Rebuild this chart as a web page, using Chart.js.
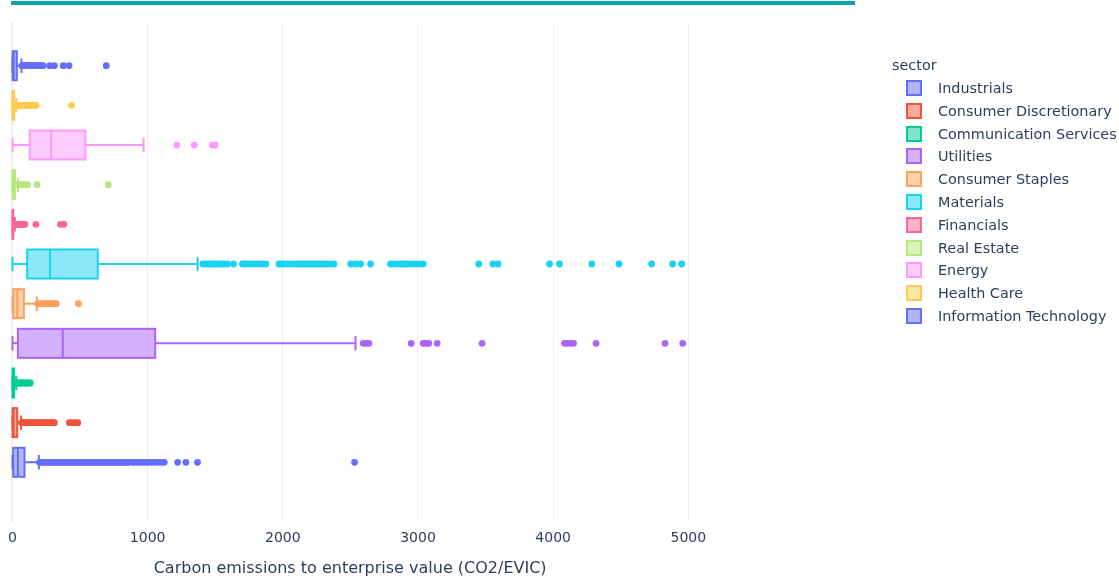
<!DOCTYPE html>
<html>
<head>
<meta charset="utf-8">
<script src="https://cdn.jsdelivr.net/npm/chart.js@4.4.1/dist/chart.umd.min.js"></script>
<style>
  html, body { margin: 0; padding: 0; background: #fff; }
  #wrap { position: relative; width: 1119px; height: 581px; overflow: hidden;
          font-family: "DejaVu Sans", Verdana, sans-serif; color: #2a3f5f; }
  #topline { position: absolute; left: 11px; top: 1px; width: 844px; height: 4px; background: #0aa1b6; }
  canvas { position: absolute; left: 0; top: 0; }
  #legend { position: absolute; left: 0; top: 0; width: 1119px; height: 581px; pointer-events: none; }
  .lg-title { position: absolute; left: 892px; font-size: 14.4px; line-height: 18px; }
  .lg-item { position: absolute; left: 906px; height: 18px; line-height: 18px; font-size: 14.4px; white-space: nowrap; }
  .lg-swatch { position: absolute; left: 0; top: 1px; width: 12px; height: 12px; border: 2px solid; }
  .lg-text { position: absolute; left: 32px; top: 0; }
</style>
</head>
<body>
<div id="wrap">
  <div id="topline"></div>
  <canvas id="chart" width="1119" height="581"></canvas>
  <div id="legend"></div>
</div>
<script>
// Sectors in legend order; the first one sits at the bottom of the plot.
const sectors = [
  'Industrials', 'Consumer Discretionary', 'Communication Services', 'Utilities',
  'Consumer Staples', 'Materials', 'Financials', 'Real Estate', 'Energy',
  'Health Care', 'Information Technology'
];
const sectorColors = [
  '#636efa', '#EF553B', '#00cc96', '#ab63fa', '#FFA15A', '#19d3f3',
  '#FF6692', '#B6E880', '#FF97FF', '#FECB52', '#636efa'
];

// Box statistics (CO2/EVIC), one entry per sector.
const lowerFence = [0, 0, 0, 0, 0, 0, 0, 0, 0, 0, 0];
const q1Values = [5, 1, 0.5, 40, 5, 109, 0.5, 1, 128, 0.5, 1];
const medianValues = [40, 8, 3, 372, 35, 278, 2, 5, 286, 3, 8];
const q3Values = [89, 35, 12, 1056, 84, 631, 6, 18, 539, 12, 32];
const upperFence = [195, 64, 28, 2538, 180, 1369, 18, 40, 970, 28, 66];

// Outlying points per sector.
const industrialsOutliers = [200, 215, 228, 243, 257, 270, 286, 300, 315, 330, 344, 358, 373, 388, 402,
  418, 432, 447, 462, 476, 490, 505, 520, 535, 550, 566, 580, 595, 610, 625, 640, 655, 670, 686, 700,
  716, 730, 745, 760, 776, 790, 806, 820, 836, 850, 864, 889, 905, 925, 945, 965, 985, 1005, 1030,
  1050, 1075, 1100, 1123, 1222, 1283, 1369, 2531];
const consumerDiscretionaryOutliers = [68, 76, 85, 94, 103, 112, 122, 132, 142, 152, 163, 174, 185, 196,
  207, 218, 230, 242, 255, 268, 282, 296, 310, 421, 440, 463, 483];
const communicationOutliers = [30, 40, 50, 60, 70, 80, 90, 100, 110, 120, 131];
const utilitiesOutliers = [2595, 2615, 2637, 2950, 3038, 3060, 3080, 3142, 3474, 4084, 4105, 4130,
  4151, 4318, 4828, 4959];
const consumerStaplesOutliers = [187, 200, 212, 225, 238, 250, 262, 275, 288, 300, 312, 323, 488];
const materialsOutliers = [1408, 1425, 1442, 1460, 1480, 1504, 1522, 1540, 1560, 1591, 1635, 1701,
  1718, 1738, 1760, 1782, 1805, 1830, 1850, 1874, 1972, 1990, 2010, 2035, 2060, 2085, 2110, 2130,
  2150, 2175, 2195, 2215, 2238, 2260, 2280, 2300, 2325, 2350, 2378, 2502, 2540, 2575, 2649, 2797,
  2825, 2850, 2875, 2895, 2915, 2940, 2965, 2985, 3010, 3038, 3449, 3555, 3592, 3973, 4047, 4286,
  4488, 4729, 4884, 4951];
const financialsOutliers = [20, 27, 35, 42, 50, 58, 66, 74, 83, 92, 173, 355, 380];
const realEstateOutliers = [42, 50, 58, 66, 75, 84, 93, 102, 112, 182, 709];
const energyOutliers = [1216, 1345, 1480, 1500];
const healthCareOutliers = [30, 38, 46, 55, 63, 72, 82, 90, 100, 110, 118, 128, 137, 147, 156, 166,
  175, 436];
const techOutliers = [70, 78, 85, 92, 100, 108, 115, 124, 132, 140, 150, 158, 167, 176, 185, 196, 207,
  218, 226, 275, 310, 375, 418, 694];

const outlierLists = [industrialsOutliers, consumerDiscretionaryOutliers, communicationOutliers,
  utilitiesOutliers, consumerStaplesOutliers, materialsOutliers, financialsOutliers,
  realEstateOutliers, energyOutliers, healthCareOutliers, techOutliers];

const xTicks = [0, 1000, 2000, 3000, 4000, 5000];
const axisTitle = 'Carbon emissions to enterprise value (CO2/EVIC)';
const legendTitle = 'sector';

const FONT = '"DejaVu Sans", Verdana, sans-serif';
const INK = '#2a3f5f';
const GRID = '#EBF0F8';
const BOX_PX = 29;

function withAlpha(hex, a) {
  const n = parseInt(hex.slice(1), 16);
  return `rgba(${(n >> 16) & 255}, ${(n >> 8) & 255}, ${n & 255}, ${a})`;
}

const boxDatasets = sectors.map((name, i) => ({
  type: 'bar',
  label: name,
  indexAxis: 'y',
  data: [{ x: [q1Values[i], q3Values[i]], y: i }],
  backgroundColor: withAlpha(sectorColors[i], 0.5),
  borderWidth: 0,
  barThickness: BOX_PX,
  grouped: false,
  order: 1,
  boxIndex: i
}));

const pointDatasets = sectors.map((name, i) => ({
  type: 'scatter',
  label: name + ' points',
  indexAxis: 'x',
  data: outlierLists[i].map(v => ({ x: v, y: i })),
  backgroundColor: sectorColors[i],
  borderWidth: 0,
  pointRadius: 3.4,
  pointHoverRadius: 3.4,
  order: 0
}));

// Outline, whiskers and median of each box, placed with the chart scales.
const boxWhiskers = {
  id: 'boxWhiskers',
  afterDatasetDraw(chart, args) {
    const ds = chart.data.datasets[args.index];
    if (ds.type !== 'bar') return;
    const i = ds.boxIndex;
    const xs = chart.scales.x, ys = chart.scales.y;
    const ctx = chart.ctx;
    const cy = ys.getPixelForValue(i);
    const half = BOX_PX / 2;
    const px = v => xs.getPixelForValue(v);
    const c = sectorColors[i];
    ctx.save();
    ctx.strokeStyle = c;
    ctx.lineWidth = 2;
    ctx.lineJoin = 'miter';
    // box outline
    ctx.strokeRect(px(q1Values[i]), cy - half, px(q3Values[i]) - px(q1Values[i]), BOX_PX);
    ctx.beginPath();
    // median
    ctx.moveTo(px(medianValues[i]), cy - half);
    ctx.lineTo(px(medianValues[i]), cy + half);
    // whiskers
    ctx.moveTo(px(lowerFence[i]), cy);
    ctx.lineTo(px(q1Values[i]), cy);
    ctx.moveTo(px(q3Values[i]), cy);
    ctx.lineTo(px(upperFence[i]), cy);
    // caps
    const cap = BOX_PX / 4;
    ctx.moveTo(px(lowerFence[i]), cy - cap);
    ctx.lineTo(px(lowerFence[i]), cy + cap);
    ctx.moveTo(px(upperFence[i]), cy - cap);
    ctx.lineTo(px(upperFence[i]), cy + cap);
    ctx.stroke();
    ctx.restore();
  }
};

Chart.defaults.font.family = FONT;
Chart.defaults.color = INK;

const chart = new Chart(document.getElementById('chart'), {
  type: 'bar',
  data: { datasets: [...boxDatasets, ...pointDatasets] },
  options: {
    responsive: false,
    animation: false,
    indexAxis: 'y',
    events: [],
    layout: { padding: { left: 8, right: 428, top: 22, bottom: 0 } },
    plugins: { legend: { display: false }, tooltip: { enabled: false } },
    scales: {
      x: {
        type: 'linear',
        position: 'bottom',
        min: -24,
        max: 5020,
        afterBuildTicks(scale) { scale.ticks = xTicks.map(v => ({ value: v })); },
        afterFit(scale) { scale.height = 59; },
        border: { display: false },
        grid: {
          drawTicks: false,
          color: GRID,
          lineWidth: ctx => (ctx.tick && ctx.tick.value === 0 ? 2 : 1)
        },
        ticks: {
          padding: 8, color: INK, font: { size: 14 }, maxRotation: 0,
          callback: v => String(v)
        },
        title: {
          display: true, text: axisTitle, color: INK,
          font: { size: 16 }, padding: { top: 0, bottom: 3 }
        }
      },
      y: {
        type: 'linear',
        display: false,
        offset: false,
        min: -1.505,
        max: 11.102,
        grid: { display: false }
      }
    }
  },
  plugins: [boxWhiskers]
});

// Legend built from the box datasets.
const legend = document.getElementById('legend');
const title = document.createElement('div');
title.className = 'lg-title';
title.style.top = (65 - 9) + 'px';
title.textContent = legendTitle;
legend.appendChild(title);
boxDatasets.forEach((ds, k) => {
  const item = document.createElement('div');
  item.className = 'lg-item';
  item.style.top = (88 + k * 22.8 - 9) + 'px';
  const sw = document.createElement('span');
  sw.className = 'lg-swatch';
  sw.style.borderColor = sectorColors[k];
  sw.style.background = ds.backgroundColor;
  const tx = document.createElement('span');
  tx.className = 'lg-text';
  tx.textContent = ds.label;
  item.appendChild(sw);
  item.appendChild(tx);
  legend.appendChild(item);
});
</script>
</body>
</html>
